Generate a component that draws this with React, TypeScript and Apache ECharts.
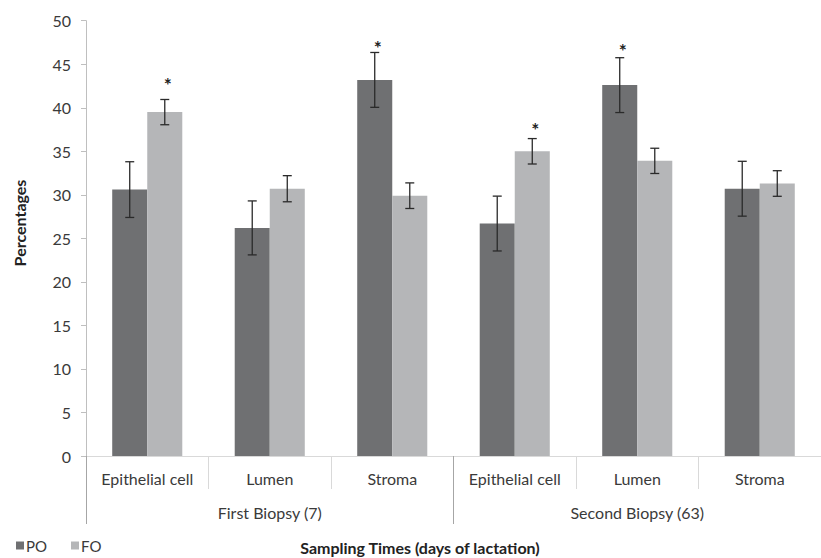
import React, { useEffect, useRef } from "react";
import * as echarts from "echarts";

const categories = ["Epithelial cell", "Lumen", "Stroma", "Epithelial cell", "Lumen", "Stroma"];
const groups = ["First Biopsy (7)", "Second Biopsy (63)"];
const yTicks = { min: 0, max: 50, interval: 5 };

const poValues = [30.6, 26.2, 43.2, 26.7, 42.6, 30.7];
const foValues = [39.5, 30.7, 29.9, 35.0, 33.9, 31.3];
const poErrors = [3.2, 3.1, 3.15, 3.15, 3.15, 3.15];
const foErrors = [1.45, 1.5, 1.47, 1.46, 1.45, 1.47];

// significance marks: [category index, series (-1 = PO, +1 = FO), height]
const asterisks: [number, number, number][] = [
  [0, 1, 43.3],
  [2, -1, 47.5],
  [3, 1, 38.1],
  [4, -1, 47.2],
];

const BAR_RATIO = 0.286;
const FONT = "Lato, 'Open Sans', sans-serif";
const TXT = "#3a3a3a";

export default function App() {
  const ref = useRef<HTMLDivElement>(null);

  useEffect(() => {
    document.body.style.margin = "0";
    if (!ref.current) return;
    const chart = echarts.init(ref.current, null, { renderer: "svg" });

    const errData: number[][] = [];
    poValues.forEach((v, i) => errData.push([i, v, poErrors[i], -1]));
    foValues.forEach((v, i) => errData.push([i, v, foErrors[i], 1]));

    const option: any = {
      animation: false,
      textStyle: { fontFamily: FONT },
      grid: { left: 86, right: -8, top: 20.7, bottom: 102, containLabel: false },
      legend: {
        data: ["PO", "FO"],
        left: 11,
        top: 533,
        icon: "rect",
        itemWidth: 8,
        itemHeight: 8,
        itemGap: 24,
        textStyle: { fontSize: 15, color: TXT, fontFamily: FONT, padding: [0, 0, 0, -3] },
      },
      xAxis: [
        {
          type: "category",
          data: categories,
          axisLine: { show: true, lineStyle: { color: "#d9d9d9", width: 1 } },
          axisTick: { show: true, length: 33, lineStyle: { color: "#d9d9d9" } },
          axisLabel: { fontSize: 16, color: TXT, margin: 14, fontFamily: FONT, interval: 0 },
          splitLine: { show: false },
        },
        {
          type: "category",
          data: groups,
          position: "bottom",
          axisLine: { show: false },
          axisTick: { show: true, length: 68, lineStyle: { color: "#a6a6a6" } },
          axisLabel: { fontSize: 16, color: TXT, margin: 48, fontFamily: FONT, interval: 0 },
          splitLine: { show: false },
        },
      ],
      yAxis: {
        type: "value",
        min: yTicks.min,
        max: yTicks.max,
        interval: yTicks.interval,
        axisLine: { show: true, lineStyle: { color: "#bfbfbf" } },
        axisTick: { show: true, length: 5, lineStyle: { color: "#bfbfbf" } },
        axisLabel: { fontSize: 16, color: TXT, margin: 15, fontFamily: FONT },
        splitLine: { show: false },
      },
      graphic: [
        {
          type: "text",
          x: 19,
          y: 223,
          rotation: Math.PI / 2,
          style: {
            text: "Percentages",
            font: `bold 16px ${FONT}`,
            fill: "#222",
            textAlign: "center",
            textVerticalAlign: "middle",
          },
        },
        {
          type: "text",
          x: 420,
          y: 547,
          style: {
            text: "Sampling Times (days of lactation)",
            font: `bold 16px ${FONT}`,
            fill: "#222",
            textAlign: "center",
            textVerticalAlign: "middle",
          },
        },
      ],
      series: [
        {
          name: "PO",
          type: "bar",
          data: poValues,
          barWidth: (BAR_RATIO * 100).toFixed(1) + "%",
          barGap: "0%",
          itemStyle: { color: "#6f7072" },
        },
        {
          name: "FO",
          type: "bar",
          data: foValues,
          barWidth: (BAR_RATIO * 100).toFixed(1) + "%",
          barGap: "0%",
          itemStyle: { color: "#b5b6b8" },
        },
        {
          type: "custom",
          z: 5,
          data: errData,
          encode: { x: 0, y: 1 },
          itemStyle: { color: "#2a2a2a" },
          renderItem: (params: any, api: any) => {
            const idx = api.value(0);
            const v = api.value(1);
            const e = api.value(2);
            const side = api.value(3);
            const band = api.size([1, 0])[0];
            const c = api.coord([idx, v]);
            const x = c[0] + (side * band * BAR_RATIO) / 2;
            const top = api.coord([idx, v + e])[1];
            const bot = api.coord([idx, v - e])[1];
            const cap = 4.5;
            const style = { stroke: "#2a2a2a", lineWidth: 1.3 };
            return {
              type: "group",
              children: [
                { type: "line", shape: { x1: x, y1: top, x2: x, y2: bot }, style },
                { type: "line", shape: { x1: x - cap, y1: top, x2: x + cap, y2: top }, style },
                { type: "line", shape: { x1: x - cap, y1: bot, x2: x + cap, y2: bot }, style },
              ],
            };
          },
        },
        {
          type: "custom",
          z: 6,
          data: asterisks,
          encode: { x: 0, y: 2 },
          itemStyle: { color: "#222" },
          renderItem: (params: any, api: any) => {
            const idx = api.value(0);
            const side = api.value(1);
            const h = api.value(2);
            const band = api.size([1, 0])[0];
            const c = api.coord([idx, h]);
            const x = c[0] + (side * band * BAR_RATIO) / 2 + 3;
            return {
              type: "text",
              x,
              y: c[1] + 5,
              style: {
                text: "*",
                font: `bold 19px ${FONT}`,
                fill: "#222",
                textAlign: "center",
                textVerticalAlign: "middle",
              },
            };
          },
        },
      ],
    };

    chart.setOption(option);
    return () => chart.dispose();
  }, []);

  return <div ref={ref} style={{ width: 821, height: 558 }} />;
}
